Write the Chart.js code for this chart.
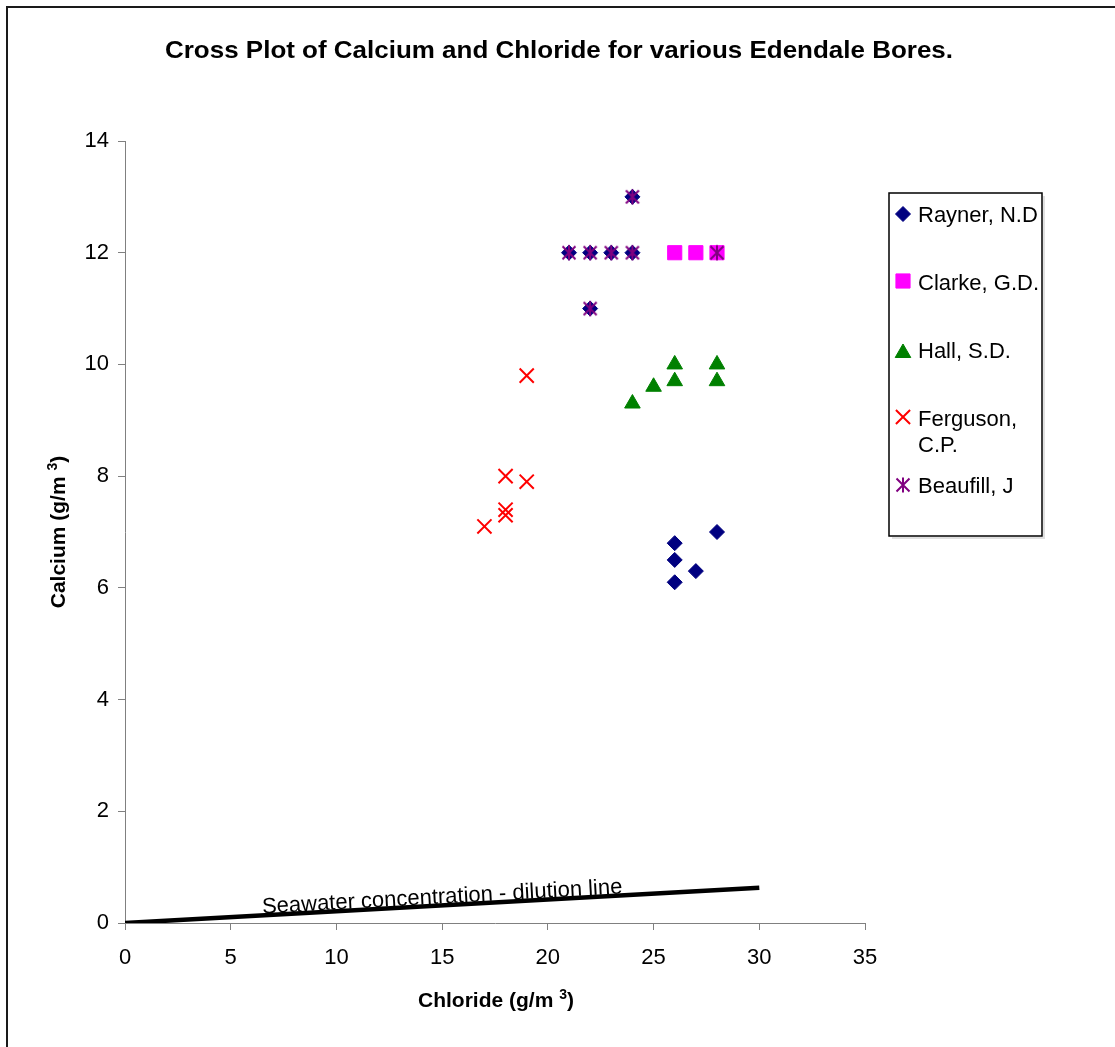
<!DOCTYPE html>
<html>
<head>
<meta charset="utf-8">
<title>Cross Plot of Calcium and Chloride</title>
<script src="https://cdn.jsdelivr.net/npm/chart.js@4.4.1/dist/chart.umd.min.js"></script>
<style>
  html, body { margin: 0; padding: 0; background: #fff; }
  #wrap { width: 1115px; height: 1047px; }
</style>
</head>
<body>
<div id="wrap"><canvas id="crossPlot" width="1115" height="1047"></canvas></div>
<script>
const FONT = '"Liberation Sans", Arial, Helvetica, sans-serif';

// chloride (x) / calcium (y) readings per bore, g/m3
const seriesNames = ["Rayner, N.D", "Clarke, G.D.", "Hall, S.D.", "Ferguson, C.P.", "Beaufill, J"];
const raynerX = [26, 26, 26, 27, 28, 21, 22, 23, 24, 24, 22];
const raynerY = [6.8, 6.5, 6.1, 6.3, 7.0, 12, 12, 12, 12, 13, 11];
const clarkeX = [26, 27, 28];
const clarkeY = [12, 12, 12];
const hallX = [24, 25, 26, 26, 28, 28];
const hallY = [9.3, 9.6, 9.7, 10, 9.7, 10];
const fergusonX = [17, 18, 18, 18, 19, 19];
const fergusonY = [7.1, 7.3, 7.4, 8.0, 7.9, 9.8];
const beaufillX = [21, 22, 22, 23, 24, 24, 28];
const beaufillY = [12, 12, 11, 12, 12, 13, 12];
const seawaterX = [0, 30];
const seawaterY = [0, 0.63];
const seawaterLabel = "Seawater concentration - dilution line";

const xRange = [0, 35, 5];
const yRange = [0, 14, 2];

function toPoints(xs, ys) {
  return xs.map((x, i) => ({ x: x, y: ys[i] }));
}

// asterisk marker (vertical stroke + X), not one of the built-in styles
function makeAsterisk(color) {
  const c = document.createElement("canvas");
  c.width = 18;
  c.height = 18;
  const g = c.getContext("2d");
  g.strokeStyle = color;
  g.lineWidth = 2;
  g.beginPath();
  g.moveTo(9, 1.5); g.lineTo(9, 16.5);
  g.moveTo(2.5, 2.5); g.lineTo(15.5, 15.5);
  g.moveTo(15.5, 2.5); g.lineTo(2.5, 15.5);
  g.stroke();
  return c;
}
const asterisk = makeAsterisk("#800080");

const markerStyles = [
  { pointStyle: "rectRot", radius: 7.5, color: "#000080", borderWidth: 1 },
  { pointStyle: "rect", radius: 10, color: "#FF00FF", borderWidth: 1 },
  { pointStyle: "triangle", radius: 9, color: "#008000", borderWidth: 1 },
  { pointStyle: "crossRot", radius: 10, color: "#FF0000", borderWidth: 2 },
  { pointStyle: asterisk, radius: 9, color: "#800080", borderWidth: 2 }
];
const seriesData = [
  toPoints(raynerX, raynerY),
  toPoints(clarkeX, clarkeY),
  toPoints(hallX, hallY),
  toPoints(fergusonX, fergusonY),
  toPoints(beaufillX, beaufillY)
];

const datasets = seriesNames.map((name, i) => ({
  label: name,
  data: seriesData[i],
  pointStyle: markerStyles[i].pointStyle,
  pointRadius: markerStyles[i].radius,
  pointHoverRadius: markerStyles[i].radius,
  pointBackgroundColor: markerStyles[i].color,
  pointBorderColor: markerStyles[i].color,
  pointBorderWidth: markerStyles[i].borderWidth,
  showLine: false,
  order: 5 - i
}));

datasets.push({
  label: "Seawater",
  data: toPoints(seawaterX, seawaterY),
  showLine: true,
  borderColor: "#000",
  borderWidth: 4.5,
  pointRadius: 0,
  order: 10
});

function drawSupText(ctx, parts, cx, cy) {
  // parts: [text, fontSize, raise]
  let total = 0;
  parts.forEach(p => {
    ctx.font = "bold " + p[1] + "px " + FONT;
    total += ctx.measureText(p[0]).width;
  });
  let x = cx - total / 2;
  ctx.textAlign = "left";
  ctx.textBaseline = "alphabetic";
  parts.forEach(p => {
    ctx.font = "bold " + p[1] + "px " + FONT;
    ctx.fillText(p[0], x, cy - p[2]);
    x += ctx.measureText(p[0]).width;
  });
}

const decorPlugin = {
  id: "decor",
  beforeDraw(chart) {
    const ctx = chart.ctx;
    ctx.save();
    ctx.fillStyle = "#fff";
    ctx.fillRect(0, 0, chart.width, chart.height);
    ctx.restore();
  },
  afterDraw(chart) {
    const ctx = chart.ctx;
    const xs = chart.scales.x;
    const ys = chart.scales.y;
    ctx.save();

    // outer frame (only left and top edges show)
    ctx.strokeStyle = "#1a1a1a";
    ctx.lineWidth = 2;
    ctx.beginPath();
    ctx.moveTo(7, chart.height);
    ctx.lineTo(7, 7);
    ctx.lineTo(chart.width, 7);
    ctx.stroke();

    // title
    ctx.fillStyle = "#000";
    ctx.font = "bold 24px " + FONT;
    const title = "Cross Plot of Calcium and Chloride for various Edendale Bores.";
    const tw = ctx.measureText(title).width;
    ctx.save();
    ctx.translate(559, 58);
    ctx.scale(788 / tw, 1);
    ctx.textAlign = "center";
    ctx.textBaseline = "alphabetic";
    ctx.fillText(title, 0, 0);
    ctx.restore();

    // axis titles
    drawSupText(ctx, [["Chloride (g/m ", 21, 0], ["3", 14, 8], [")", 21, 0]], 496, 1007);
    ctx.save();
    ctx.translate(65, 532);
    ctx.rotate(-Math.PI / 2);
    drawSupText(ctx, [["Calcium (g/m ", 21, 0], ["3", 14, 8], [")", 21, 0]], 0, 0);
    ctx.restore();

    // dilution line label, along the line
    const x0 = xs.getPixelForValue(seawaterX[0]), y0 = ys.getPixelForValue(seawaterY[0]);
    const x1 = xs.getPixelForValue(seawaterX[1]), y1 = ys.getPixelForValue(seawaterY[1]);
    const ang = Math.atan2(y1 - y0, x1 - x0);
    const lx = xs.getPixelForValue(6.5);
    const ly = y0 + (lx - x0) * Math.tan(ang) - 2;
    ctx.save();
    ctx.translate(lx, ly);
    ctx.rotate(ang);
    ctx.font = "22px " + FONT;
    ctx.textAlign = "left";
    ctx.textBaseline = "alphabetic";
    ctx.fillText(seawaterLabel, 0, 0);
    ctx.restore();

    // legend
    ctx.fillStyle = "#fff";
    ctx.fillRect(889, 193, 153, 343);
    ctx.strokeStyle = "#e0e0e0";
    ctx.lineWidth = 2;
    ctx.beginPath();
    ctx.moveTo(1044, 196); ctx.lineTo(1044, 538); ctx.lineTo(892, 538);
    ctx.stroke();
    ctx.strokeStyle = "#000";
    ctx.lineWidth = 1.5;
    ctx.strokeRect(889, 193, 153, 343);

    const markerY = [214, 281, 353, 417, 485];
    const textLines = [["Rayner, N.D"], ["Clarke, G.D."], ["Hall, S.D."], ["Ferguson,", "C.P."], ["Beaufill, J"]];
    const baseY = [222, 290, 358, 426, 493];
    markerStyles.forEach((m, i) => {
      ctx.fillStyle = m.color;
      ctx.strokeStyle = m.color;
      ctx.lineWidth = m.borderWidth;
      Chart.helpers.drawPoint(ctx, { pointStyle: m.pointStyle, radius: m.radius, borderWidth: m.borderWidth, rotation: 0 }, 903, markerY[i]);
      ctx.fillStyle = "#000";
      ctx.font = "22px " + FONT;
      ctx.textAlign = "left";
      ctx.textBaseline = "alphabetic";
      textLines[i].forEach((t, j) => ctx.fillText(t, 918, baseY[i] + j * 26));
    });

    ctx.restore();
  }
};

const tickFont = { family: FONT, size: 22 };

new Chart(document.getElementById("crossPlot"), {
  type: "scatter",
  data: { datasets: datasets },
  options: {
    responsive: false,
    animation: false,
    events: [],
    layout: { padding: { top: 141, right: 250, left: 0, bottom: 0 } },
    plugins: {
      legend: { display: false },
      title: { display: false },
      tooltip: { enabled: false }
    },
    scales: {
      x: {
        type: "linear",
        min: xRange[0],
        max: xRange[1],
        afterFit(s) { s.height = 124; },
        ticks: { stepSize: xRange[2], color: "#000", font: tickFont, padding: 15, maxRotation: 0 },
        grid: { display: true, drawOnChartArea: false, drawTicks: true, tickLength: 7, color: "#808080" },
        border: { display: true, color: "#808080", width: 1 }
      },
      y: {
        type: "linear",
        min: yRange[0],
        max: yRange[1],
        afterFit(s) { s.width = 125; },
        ticks: { stepSize: yRange[2], color: "#000", font: tickFont, padding: 9 },
        grid: { display: true, drawOnChartArea: false, drawTicks: true, tickLength: 7, color: "#808080" },
        border: { display: true, color: "#808080", width: 1 }
      }
    }
  },
  plugins: [decorPlugin]
});
</script>
</body>
</html>
